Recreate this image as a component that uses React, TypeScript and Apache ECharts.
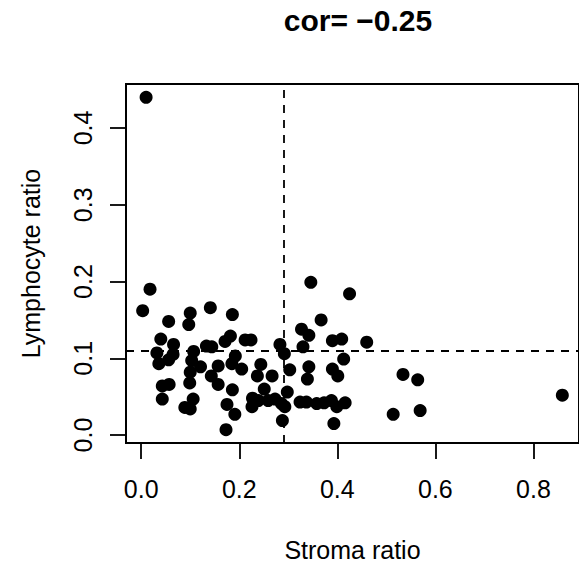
import React, { useEffect, useRef } from "react";
import * as echarts from "echarts";

// Stroma ratio (x) and Lymphocyte ratio (y) for each sample
const stromaRatio = [
  0.010, 0.018, 0.003, 0.056, 0.100, 0.097, 0.141, 0.186, 0.040, 0.066,
  0.032, 0.065, 0.036, 0.056, 0.107, 0.103, 0.121, 0.100, 0.133, 0.144,
  0.171, 0.182, 0.192, 0.185, 0.205, 0.157, 0.143, 0.157, 0.099, 0.057,
  0.043, 0.043, 0.089, 0.100, 0.106, 0.186, 0.175, 0.191, 0.173, 0.212,
  0.224, 0.244, 0.237, 0.267, 0.251, 0.227, 0.239, 0.226, 0.259, 0.273,
  0.286, 0.293, 0.298, 0.288, 0.283, 0.292, 0.303, 0.324, 0.337, 0.327,
  0.342, 0.330, 0.346, 0.367, 0.342, 0.339, 0.358, 0.373, 0.388, 0.399,
  0.416, 0.393, 0.390, 0.409, 0.413, 0.390, 0.401, 0.425, 0.460, 0.534,
  0.564, 0.514, 0.569, 0.859,
];
const lymphocyteRatio = [
  0.440, 0.190, 0.162, 0.148, 0.159, 0.144, 0.166, 0.157, 0.125, 0.118,
  0.107, 0.105, 0.093, 0.098, 0.109, 0.097, 0.089, 0.082, 0.116, 0.115,
  0.122, 0.129, 0.103, 0.093, 0.086, 0.090, 0.077, 0.066, 0.068, 0.066,
  0.064, 0.047, 0.036, 0.034, 0.047, 0.059, 0.040, 0.027, 0.007, 0.124,
  0.124, 0.092, 0.077, 0.077, 0.060, 0.048, 0.045, 0.037, 0.045, 0.047,
  0.041, 0.037, 0.056, 0.019, 0.118, 0.106, 0.085, 0.043, 0.043, 0.138,
  0.130, 0.115, 0.199, 0.150, 0.089, 0.073, 0.041, 0.042, 0.045, 0.037,
  0.042, 0.015, 0.123, 0.125, 0.099, 0.086, 0.077, 0.184, 0.121, 0.079,
  0.072, 0.027, 0.032, 0.052,
];

const xTicks = [0, 0.2, 0.4, 0.6, 0.8];
const yTicks = [0, 0.1, 0.2, 0.3, 0.4];
const xCut = 0.29; // vertical dashed line
const yCut = 0.106; // horizontal dashed line
const titleText = "cor= \u22120.25";
const xName = "Stroma ratio";
const yName = "Lymphocyte ratio";

const FONT = "'Liberation Sans', Arial, Helvetica, sans-serif";

export default function App() {
  const ref = useRef<HTMLDivElement>(null);

  useEffect(() => {
    if (!ref.current) return;
    const chart = echarts.init(ref.current, undefined, { renderer: "svg" });
    const data = stromaRatio.map((x, i) => [x, lymphocyteRatio[i]]);

    chart.setOption({
      animation: false,
      backgroundColor: "#ffffff",
      title: {
        text: titleText,
        left: 353,
        top: 0,
        textAlign: "center",
        textStyle: {
          fontFamily: FONT,
          fontSize: 30,
          fontWeight: "bold",
          color: "#000",
        },
      },
      grid: {
        left: 126,
        top: 84,
        width: 454,
        height: 362,
        show: true,
        borderColor: "#000",
        borderWidth: 2,
        backgroundColor: "transparent",
      },
      xAxis: {
        type: "value",
        min: -0.031,
        max: 0.893,
        name: xName,
        nameLocation: "middle",
        nameGap: 94,
        nameTextStyle: { fontFamily: FONT, fontSize: 25, color: "#000" },
        axisLine: { show: true, onZero: false, lineStyle: { color: "#000", width: 2 } },
        axisTick: {
          show: true,
          customValues: xTicks,
          length: 16,
          lineStyle: { color: "#000", width: 1.8 },
        },
        axisLabel: {
          customValues: xTicks,
          formatter: (v: number) => v.toFixed(1),
          fontFamily: FONT,
          fontSize: 25,
          color: "#000",
          margin: 33,
        },
        splitLine: { show: false },
      },
      yAxis: {
        type: "value",
        min: -0.0103,
        max: 0.4573,
        name: yName,
        nameLocation: "middle",
        nameGap: 83,
        nameRotate: 90,
        nameTextStyle: { fontFamily: FONT, fontSize: 25, color: "#000" },
        axisLine: { show: true, onZero: false, lineStyle: { color: "#000", width: 2 } },
        axisTick: {
          show: true,
          customValues: yTicks,
          length: 16,
          lineStyle: { color: "#000", width: 1.8 },
        },
        axisLabel: {
          customValues: yTicks,
          formatter: (v: number) => v.toFixed(1),
          rotate: 90,
          fontFamily: FONT,
          fontSize: 25,
          color: "#000",
          margin: 31,
        },
        splitLine: { show: false },
      },
      series: [
        {
          type: "scatter",
          data,
          symbol: "circle",
          symbolSize: 13,
          itemStyle: { color: "#000", opacity: 1 },
          markLine: {
            silent: true,
            symbol: ["none", "none"],
            label: { show: false },
            lineStyle: { color: "#000", type: [8, 7], width: 1.8 },
            data: [{ xAxis: xCut }, { yAxis: yCut }],
          },
        },
      ],
    });

    return () => chart.dispose();
  }, []);

  return (
    <div
      ref={ref}
      style={{ position: "fixed", left: 0, top: 0, width: 579, height: 567, background: "#fff" }}
    />
  );
}
